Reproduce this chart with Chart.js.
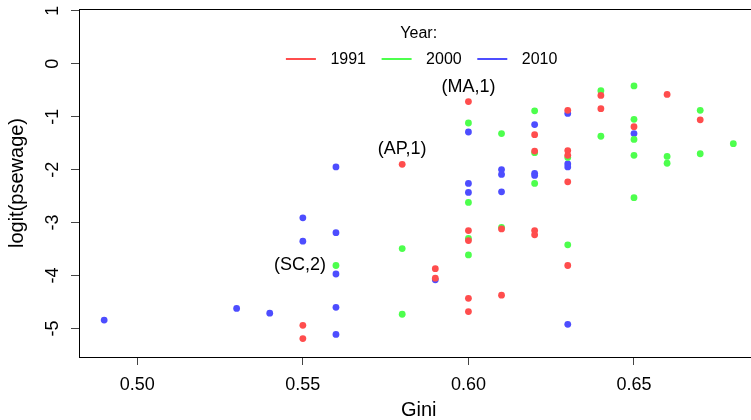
<!DOCTYPE html>
<html>
<head>
<meta charset="utf-8">
<script src="https://cdn.jsdelivr.net/npm/chart.js@4.4.1/dist/chart.umd.min.js"></script>
<style>
  html, body { margin: 0; padding: 0; background: #fff; overflow: hidden; }
  #wrap { width: 770px; height: 420px; }
</style>
</head>
<body>
<div id="wrap"><canvas id="chart" width="770" height="420"></canvas></div>
<script>
// ---- data: Gini vs logit(psewage), one series per survey year ----
const years = ["1991", "2000", "2010"];
const yearColors = ["#ff4d4d", "#4dff4d", "#4d4dff"];

const gini1991 = [0.55, 0.55, 0.58, 0.59, 0.59, 0.60, 0.60, 0.60, 0.60, 0.60, 0.61, 0.61, 0.62,
                  0.62, 0.62, 0.62, 0.63, 0.63, 0.63, 0.63, 0.63, 0.64, 0.64, 0.65, 0.66, 0.67];
const logit1991 = [-4.94, -5.19, -1.90, -3.87, -4.05, -0.715, -3.15, -3.34, -4.43, -4.68, -3.12, -4.37, -1.34,
                   -1.65, -3.15, -3.23, -0.88, -1.64, -1.73, -2.23, -3.81, -0.60, -0.85, -1.19, -0.58, -1.06];

const gini2000 = [0.56, 0.58, 0.58, 0.60, 0.60, 0.60, 0.60, 0.61, 0.61, 0.62, 0.62, 0.62, 0.63,
                  0.63, 0.64, 0.64, 0.65, 0.65, 0.65, 0.65, 0.65, 0.66, 0.66, 0.67, 0.67, 0.68];
const logit2000 = [-3.81, -3.49, -4.73, -1.12, -2.62, -3.30, -3.61, -1.32, -3.09, -0.89, -1.68, -2.26, -1.77,
                   -3.42, -0.51, -1.37, -0.42, -1.05, -1.43, -1.73, -2.53, -1.75, -1.88, -0.88, -1.70, -1.51];

const gini2010 = [0.49, 0.53, 0.54, 0.55, 0.55, 0.56, 0.56, 0.56, 0.56, 0.56, 0.59, 0.60, 0.60,
                  0.60, 0.61, 0.61, 0.61, 0.62, 0.62, 0.62, 0.63, 0.63, 0.63, 0.63, 0.65];
const logit2010 = [-4.84, -4.62, -4.71, -2.91, -3.35, -1.95, -3.19, -3.97, -4.60, -5.11, -4.08, -1.29, -2.26,
                   -2.43, -2.00, -2.09, -2.42, -1.15, -2.07, -2.11, -0.94, -1.89, -1.95, -4.92, -1.32];

// labelled observations (state, group)
const noteLabels = ["(MA,1)", "(AP,1)", "(SC,2)"];
const noteGini = [0.60, 0.58, 0.56];
const noteLogit = [-0.715, -1.90, -3.81];
const noteSide = ["above", "above", "left"];

// axis ticks
const xTickVals = [0.50, 0.55, 0.60, 0.65];
const xTickLabels = ["0.50", "0.55", "0.60", "0.65"];
const yTickVals = [-5, -4, -3, -2, -1, 0, 1];
const yTickLabels = ["-5", "-4", "-3", "-2", "-1", "0", "1"];

const FONT = "'Liberation Sans', Arial, Helvetica, sans-serif";

const toPoints = (xs, ys) => xs.map((x, i) => ({ x, y: ys[i] }));
const series = [toPoints(gini1991, logit1991), toPoints(gini2000, logit2000), toPoints(gini2010, logit2010)];

// plot frame like base R's box()
const plotBox = {
  id: "plotBox",
  beforeDatasetsDraw(chart) {
    const { ctx, chartArea: a } = chart;
    ctx.save();
    ctx.strokeStyle = "#000";
    ctx.lineWidth = 1;
    ctx.strokeRect(Math.round(a.left) + 0.5, Math.round(a.top) + 0.5,
      Math.round(a.right - a.left), Math.round(a.bottom - a.top));
    ctx.restore();
  }
};

// text labels next to a few points
const pointNotes = {
  id: "pointNotes",
  afterDatasetsDraw(chart) {
    const { ctx, scales: { x, y } } = chart;
    ctx.save();
    ctx.font = "18px " + FONT;
    ctx.fillStyle = "#000";
    ctx.textBaseline = "middle";
    noteLabels.forEach((txt, i) => {
      const px = x.getPixelForValue(noteGini[i]);
      const py = y.getPixelForValue(noteLogit[i]);
      if (noteSide[i] === "left") {
        ctx.textAlign = "right";
        ctx.fillText(txt, px - 10, py);
      } else {
        ctx.textAlign = "center";
        ctx.fillText(txt, px, py - 15);
      }
    });
    ctx.restore();
  }
};

// legend drawn inside the plot, R style: title on top, line keys in a row
const yearLegend = {
  id: "yearLegend",
  afterDraw(chart) {
    const { ctx, chartArea: a } = chart;
    const cx = (a.left + a.right) / 2;
    ctx.save();
    ctx.font = "16px " + FONT;
    ctx.fillStyle = "#000";
    ctx.textBaseline = "middle";
    ctx.textAlign = "center";
    ctx.fillText("Year:", cx, 34);
    const step = 95.7;
    let x0 = cx + 2.7 - (step * years.length - 16) / 2;
    ctx.textAlign = "left";
    chart.data.datasets.forEach((ds, i) => {
      const sx = x0 + i * step;
      ctx.strokeStyle = ds.backgroundColor;
      ctx.lineWidth = 2;
      ctx.beginPath();
      ctx.moveTo(sx, 59);
      ctx.lineTo(sx + 30, 59);
      ctx.stroke();
      ctx.fillText(ds.label, sx + 44.5, 60);
    });
    ctx.restore();
  }
};

new Chart(document.getElementById("chart"), {
  type: "scatter",
  data: {
    datasets: years.map((yr, i) => ({
      label: yr,
      data: series[i],
      backgroundColor: yearColors[i],
      borderWidth: 0,
      pointRadius: 3.4,
      pointHoverRadius: 3.4
    }))
  },
  options: {
    responsive: false,
    animation: false,
    devicePixelRatio: 1,
    layout: { padding: { top: 9, right: 11.5, bottom: 0, left: 0 } },
    plugins: { legend: { display: false }, tooltip: { enabled: false } },
    scales: {
      x: {
        type: "linear",
        min: 0.4824,
        max: 0.6876,
        border: { display: false },
        grid: { drawOnChartArea: false, drawTicks: true, tickLength: 8, color: "#444" },
        afterBuildTicks: s => { s.ticks = xTickVals.map(v => ({ value: v })); },
        afterFit: s => { s.height = 63; s.paddingLeft = 0; s.paddingRight = 0; },
        ticks: {
          autoSkip: false,
          maxRotation: 0,
          padding: 9,
          color: "#000",
          font: { family: FONT, size: 18 },
          callback: v => xTickLabels[xTickVals.indexOf(v)]
        },
        title: { display: true, text: "Gini", color: "#000", font: { family: FONT, size: 20, lineHeight: 1 }, padding: 0 }
      },
      y: {
        type: "linear",
        min: -5.537,
        max: 1.032,
        border: { display: false },
        grid: { drawOnChartArea: false, drawTicks: true, tickLength: 8, color: "#444" },
        afterBuildTicks: s => { s.ticks = yTickVals.map(v => ({ value: v })); },
        afterFit: s => { s.width = 79; s.paddingTop = 0; s.paddingBottom = 0; },
        ticks: {
          autoSkip: false,
          minRotation: 90,
          maxRotation: 90,
          crossAlign: "center",
          padding: 10,
          color: "#000",
          font: { family: FONT, size: 18 },
          callback: v => yTickLabels[yTickVals.indexOf(v)]
        },
        title: { display: true, text: "logit(psewage)", color: "#000", font: { family: FONT, size: 20 }, padding: { top: 5, bottom: 0 } }
      }
    }
  },
  plugins: [plotBox, pointNotes, yearLegend]
});
</script>
</body>
</html>
